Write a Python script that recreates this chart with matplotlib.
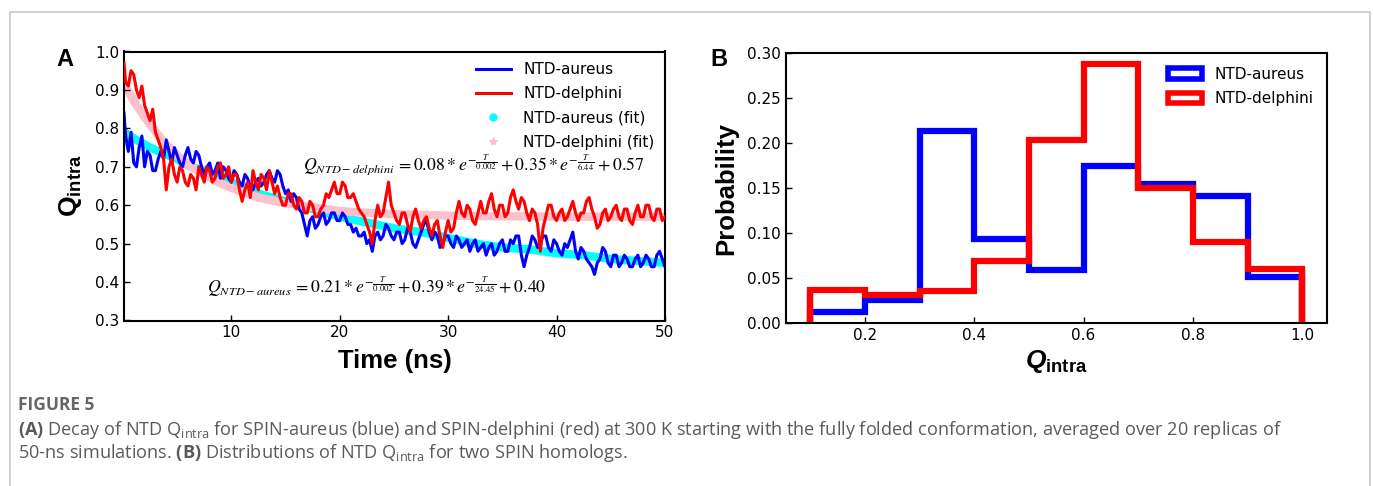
import numpy as np
import matplotlib
matplotlib.use("Agg")
import matplotlib.pyplot as plt
from matplotlib.lines import Line2D
from matplotlib.patches import Patch

# ---------------- data ----------------
time_ns = [0.1, 0.25, 0.5, 0.75, 1.0, 1.25, 1.5, 1.75, 2.0, 2.25, 2.5, 2.75, 3.0, 3.25, 3.5, 3.75, 4.0, 4.25, 4.5, 4.75,
           5.0, 5.25, 5.5, 5.75, 6.0, 6.25, 6.5, 6.75, 7.0, 7.25, 7.5, 7.75, 8.0, 8.25, 8.5, 8.75, 9.0, 9.25, 9.5, 9.75,
           10.0, 10.25, 10.5, 10.75, 11.0, 11.25, 11.5, 11.75, 12.0, 12.25, 12.5, 12.75, 13.0, 13.25, 13.5, 13.75, 14.0, 14.25, 14.5, 14.75,
           15.0, 15.25, 15.5, 15.75, 16.0, 16.25, 16.5, 16.75, 17.0, 17.25, 17.5, 17.75, 18.0, 18.25, 18.5, 18.75, 19.0, 19.25, 19.5, 19.75,
           20.0, 20.25, 20.5, 20.75, 21.0, 21.25, 21.5, 21.75, 22.0, 22.25, 22.5, 22.75, 23.0, 23.25, 23.5, 23.75, 24.0, 24.25, 24.5, 24.75,
           25.0, 25.25, 25.5, 25.75, 26.0, 26.25, 26.5, 26.75, 27.0, 27.25, 27.5, 27.75, 28.0, 28.25, 28.5, 28.75, 29.0, 29.25, 29.5, 29.75,
           30.0, 30.25, 30.5, 30.75, 31.0, 31.25, 31.5, 31.75, 32.0, 32.25, 32.5, 32.75, 33.0, 33.25, 33.5, 33.75, 34.0, 34.25, 34.5, 34.75,
           35.0, 35.25, 35.5, 35.75, 36.0, 36.25, 36.5, 36.75, 37.0, 37.25, 37.5, 37.75, 38.0, 38.25, 38.5, 38.75, 39.0, 39.25, 39.5, 39.75,
           40.0, 40.25, 40.5, 40.75, 41.0, 41.25, 41.5, 41.75, 42.0, 42.25, 42.5, 42.75, 43.0, 43.25, 43.5, 43.75, 44.0, 44.25, 44.5, 44.75,
           45.0, 45.25, 45.5, 45.75, 46.0, 46.25, 46.5, 46.75, 47.0, 47.25, 47.5, 47.75, 48.0, 48.25, 48.5, 48.75, 49.0, 49.25, 49.5, 49.75,
           50.0]

q_aureus = [0.84, 0.78, 0.74, 0.79, 0.71, 0.70, 0.75, 0.78, 0.70, 0.74, 0.73, 0.69, 0.69, 0.72, 0.74, 0.72, 0.77, 0.74, 0.71, 0.75,
            0.73, 0.71, 0.70, 0.73, 0.75, 0.72, 0.71, 0.74, 0.73, 0.70, 0.68, 0.70, 0.71, 0.68, 0.69, 0.71, 0.67, 0.70, 0.69, 0.67,
            0.66, 0.69, 0.68, 0.66, 0.65, 0.68, 0.67, 0.65, 0.64, 0.66, 0.67, 0.65, 0.66, 0.68, 0.69, 0.67, 0.66, 0.69, 0.68, 0.65,
            0.63, 0.64, 0.61, 0.63, 0.62, 0.59, 0.58, 0.55, 0.52, 0.56, 0.57, 0.54, 0.55, 0.57, 0.58, 0.55, 0.56, 0.58, 0.58, 0.56,
            0.56, 0.58, 0.57, 0.55, 0.55, 0.53, 0.54, 0.52, 0.52, 0.53, 0.50, 0.51, 0.48, 0.52, 0.53, 0.51, 0.52, 0.55, 0.54, 0.52,
            0.51, 0.53, 0.53, 0.50, 0.51, 0.54, 0.53, 0.50, 0.49, 0.51, 0.53, 0.55, 0.56, 0.53, 0.51, 0.53, 0.52, 0.49, 0.50, 0.52,
            0.52, 0.50, 0.49, 0.52, 0.51, 0.49, 0.50, 0.51, 0.48, 0.50, 0.51, 0.48, 0.49, 0.50, 0.47, 0.49, 0.50, 0.47, 0.48, 0.50,
            0.51, 0.48, 0.48, 0.51, 0.50, 0.52, 0.52, 0.47, 0.44, 0.47, 0.49, 0.52, 0.51, 0.49, 0.50, 0.52, 0.52, 0.49, 0.48, 0.51,
            0.50, 0.48, 0.47, 0.50, 0.49, 0.51, 0.53, 0.48, 0.46, 0.49, 0.48, 0.46, 0.45, 0.44, 0.42, 0.45, 0.46, 0.49, 0.48, 0.45,
            0.44, 0.47, 0.47, 0.44, 0.45, 0.47, 0.46, 0.44, 0.44, 0.46, 0.47, 0.44, 0.45, 0.47, 0.46, 0.44, 0.44, 0.47, 0.48, 0.46,
            0.44]

q_delphini = [0.97, 0.92, 0.91, 0.95, 0.94, 0.90, 0.88, 0.91, 0.86, 0.84, 0.82, 0.85, 0.79, 0.77, 0.75, 0.72, 0.64, 0.70, 0.72, 0.68,
              0.66, 0.70, 0.69, 0.66, 0.65, 0.68, 0.67, 0.64, 0.70, 0.68, 0.66, 0.70, 0.69, 0.66, 0.67, 0.70, 0.71, 0.67, 0.68, 0.70,
              0.66, 0.68, 0.68, 0.64, 0.61, 0.64, 0.66, 0.62, 0.69, 0.66, 0.64, 0.68, 0.67, 0.64, 0.69, 0.66, 0.63, 0.65, 0.62, 0.60,
              0.60, 0.63, 0.63, 0.60, 0.59, 0.62, 0.61, 0.58, 0.58, 0.61, 0.60, 0.57, 0.57, 0.59, 0.60, 0.63, 0.62, 0.64, 0.66, 0.63,
              0.63, 0.66, 0.65, 0.62, 0.62, 0.63, 0.61, 0.59, 0.58, 0.57, 0.55, 0.53, 0.50, 0.56, 0.60, 0.57, 0.58, 0.62, 0.66, 0.60,
              0.58, 0.56, 0.55, 0.58, 0.58, 0.55, 0.53, 0.57, 0.59, 0.56, 0.54, 0.56, 0.57, 0.54, 0.52, 0.55, 0.56, 0.52, 0.49, 0.53,
              0.56, 0.53, 0.54, 0.58, 0.61, 0.58, 0.57, 0.60, 0.59, 0.56, 0.55, 0.58, 0.61, 0.58, 0.58, 0.61, 0.63, 0.59, 0.57, 0.60,
              0.60, 0.57, 0.58, 0.62, 0.64, 0.61, 0.59, 0.62, 0.61, 0.58, 0.56, 0.59, 0.58, 0.55, 0.48, 0.54, 0.57, 0.60, 0.60, 0.57,
              0.56, 0.58, 0.59, 0.56, 0.57, 0.59, 0.61, 0.58, 0.56, 0.58, 0.58, 0.61, 0.62, 0.59, 0.57, 0.54, 0.55, 0.58, 0.59, 0.56,
              0.57, 0.59, 0.60, 0.57, 0.56, 0.59, 0.59, 0.56, 0.55, 0.58, 0.60, 0.57, 0.57, 0.60, 0.60, 0.57, 0.56, 0.59, 0.59, 0.56,
              0.57]

fit_time = [0.1, 1.25, 2.5, 3.75, 5.0, 6.25, 7.5, 8.75, 10.0, 12.5, 15.0, 17.5, 20.0, 22.5, 25.0, 27.5, 30.0, 32.5, 35.0, 37.5,
            40.0, 42.5, 45.0, 47.5, 50.0]
fit_aureus = [0.79, 0.77, 0.75, 0.735, 0.72, 0.70, 0.69, 0.675, 0.66, 0.63, 0.61, 0.59, 0.57, 0.555, 0.54, 0.53, 0.515, 0.50, 0.49, 0.485,
              0.475, 0.47, 0.46, 0.455, 0.45]
fit_delphini = [0.915, 0.86, 0.81, 0.765, 0.73, 0.70, 0.68, 0.66, 0.645, 0.62, 0.605, 0.595, 0.585, 0.58, 0.577, 0.575, 0.573, 0.572, 0.571, 0.571,
                0.57, 0.57, 0.57, 0.57, 0.57]

bin_edges = [0.1, 0.2, 0.3, 0.4, 0.5, 0.6, 0.7, 0.8, 0.9, 1.0]
prob_aureus = [0.012, 0.025, 0.213, 0.093, 0.059, 0.175, 0.155, 0.141, 0.051]
prob_delphini = [0.036, 0.031, 0.035, 0.069, 0.203, 0.288, 0.150, 0.090, 0.060]

series_labels = ["NTD-aureus", "NTD-delphini"]
fit_labels = ["NTD-aureus (fit)", "NTD-delphini (fit)"]

# ---------------- style ----------------
plt.rcParams["font.family"] = ["DejaVu Sans"]
plt.rcParams["mathtext.fontset"] = "custom"
plt.rcParams["mathtext.rm"] = "Open Sans"
plt.rcParams["mathtext.sf"] = "Open Sans:bold"
plt.rcParams["mathtext.bf"] = "Liberation Sans:bold"
plt.rcParams["mathtext.it"] = "Liberation Sans:bold:italic"

W, H = 1373, 486
fig = plt.figure(figsize=(W / 100, H / 100), dpi=100)

def px_axes(left, top, right, bottom):
    return fig.add_axes([left / W, 1 - bottom / H, (right - left) / W, (bottom - top) / H])

def fx(x):
    return x / W

def fy(y):
    return 1 - y / H

# border of the figure box
border_col = "#c8c8c8"
fig.add_artist(Line2D([fx(9.5), fx(9.5), fx(1370), fx(1370)], [0, fy(12.5), fy(12.5), 0],
                      transform=fig.transFigure, color=border_col, lw=1.2))

BLUE, RED, CYAN, PINK = "#0000ff", "#ff0000", "#00ffff", "#ffc0cb"

# ---------------- panel A ----------------
axA = px_axes(124, 51.5, 665, 320.5)
axA.plot(fit_time, fit_aureus, color=CYAN, lw=6, solid_capstyle="butt", zorder=1)
axA.plot(fit_time, fit_delphini, color=PINK, lw=6, solid_capstyle="butt", zorder=1)
axA.plot(time_ns, q_aureus, color=BLUE, lw=2.2, zorder=2)
axA.plot(time_ns, q_delphini, color=RED, lw=2.2, zorder=3)
axA.set_xlim(0.1, 50)
axA.set_ylim(0.3, 1.0)
axA.set_xticks([10, 20, 30, 40, 50])
axA.set_yticks([0.3, 0.4, 0.5, 0.6, 0.7, 0.8, 0.9, 1.0])
axA.tick_params(direction="in", labelsize=11, length=4, width=1)
for s in axA.spines.values():
    s.set_linewidth(1.5)
axA.set_xlabel("Time (ns)", fontsize=18.5, fontweight="bold", family="Liberation Sans", labelpad=6)
axA.set_ylabel(r"$\mathbf{Q}_{\mathbf{intra}}$", fontsize=19, labelpad=8)

handles = [Line2D([], [], color=BLUE, lw=2.2), Line2D([], [], color=RED, lw=2.2),
           Line2D([], [], color=CYAN, marker="o", ls="none", ms=5),
           Line2D([], [], color=PINK, marker="*", ls="none", ms=6)]
axA.legend(handles, series_labels + fit_labels, loc="upper right", frameon=False, fontsize=11,
           handlelength=2.3, borderaxespad=0.3, labelspacing=0.6)

fig.text(fx(474), fy(165), r"$Q_{NTD-delphini}\,=0.08*e^{-\frac{T}{0.002}}+0.35*e^{-\frac{T}{6.44}}+0.57$",
         fontsize=12.8, ha="center", va="center", math_fontfamily="stix")
fig.text(fx(377), fy(287), r"$Q_{NTD-aureus}\,=0.21*e^{-\frac{T}{0.002}}+0.39*e^{-\frac{T}{24.45}}+0.40$",
         fontsize=12.8, ha="center", va="center", math_fontfamily="stix")

fig.text(fx(65), fy(60), "A", fontsize=17, fontweight="bold", family="Liberation Sans", ha="center", va="center")

# ---------------- panel B ----------------
axB = px_axes(785.5, 53.3, 1327, 322.7)
axB.stairs(prob_aureus, bin_edges, color=BLUE, lw=4.5, label=series_labels[0])
axB.stairs(prob_delphini, bin_edges, color=RED, lw=4.5, label=series_labels[1])
axB.vlines([bin_edges[0], bin_edges[-1]], 0, [prob_delphini[0], prob_delphini[-1]], color=RED, lw=4.5)
axB.set_xlim(0.055, 1.045)
axB.set_ylim(0, 0.30)
axB.set_xticks([0.2, 0.4, 0.6, 0.8, 1.0])
axB.set_yticks([0.0, 0.05, 0.10, 0.15, 0.20, 0.25, 0.30])
axB.set_yticklabels(["0.00", "0.05", "0.10", "0.15", "0.20", "0.25", "0.30"])
axB.tick_params(direction="in", labelsize=11, length=4, width=1)
for s in axB.spines.values():
    s.set_linewidth(1.5)
axB.set_ylabel("Probability", fontsize=18.5, fontweight="bold", family="Liberation Sans", labelpad=6)
axB.set_xlabel(r"$Q_{\mathbf{intra}}$", fontsize=19, labelpad=4)
legB = [Patch(facecolor="white", edgecolor=BLUE, lw=4), Patch(facecolor="white", edgecolor=RED, lw=4)]
axB.legend(legB, series_labels, loc="upper right", frameon=False, fontsize=11, handlelength=2.2,
           borderaxespad=0.5, labelspacing=0.6)

fig.text(fx(719), fy(60), "B", fontsize=17, fontweight="bold", family="Liberation Sans", ha="center", va="center")

# ---------------- caption ----------------
cap_col = "#5a5a5a"
fig.text(fx(18), fy(405), "FIGURE 5", fontsize=12.5, fontweight="bold", family="Open Sans",
         color="#666666", ha="left", va="center")
fig.text(fx(18), fy(430),
         r"$\mathsf{(A)}$ Decay of NTD $\mathrm{Q}_{\mathrm{intra}}$ for SPIN-aureus (blue) and SPIN-delphini (red) at 300 K "
         r"starting with the fully folded conformation, averaged over 20 replicas of",
         fontsize=13.1, family="Open Sans", color=cap_col, ha="left", va="center")
fig.text(fx(18), fy(453),
         r"50-ns simulations. $\mathsf{(B)}$ Distributions of NTD $\mathrm{Q}_{\mathrm{intra}}$ for two SPIN homologs.",
         fontsize=13.1, family="Open Sans", color=cap_col, ha="left", va="center")

fig.savefig("out.png", dpi=100)
